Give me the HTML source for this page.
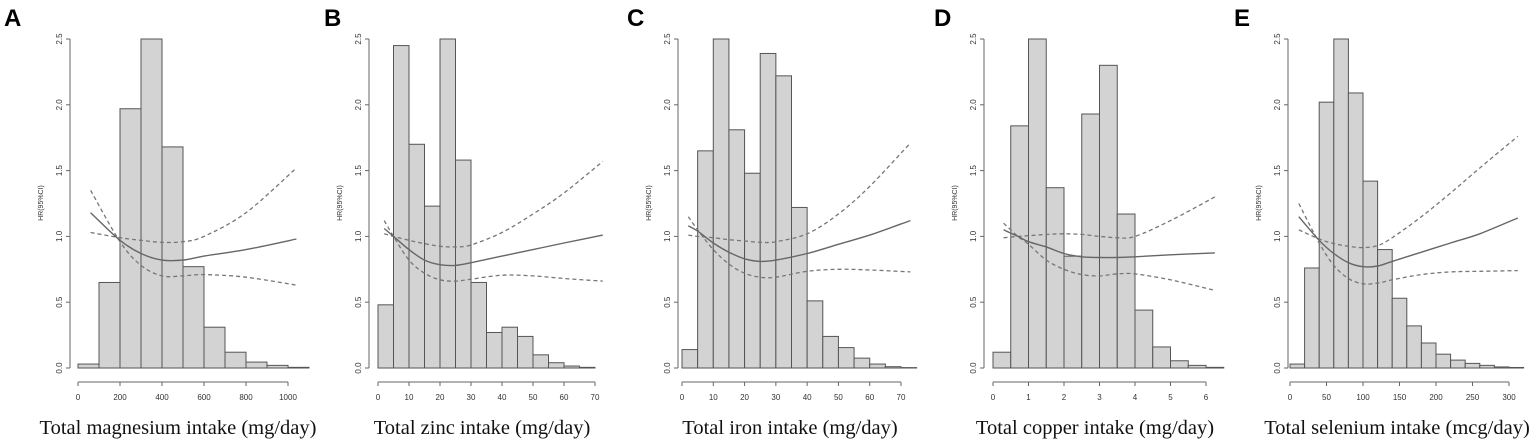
<!DOCTYPE html>
<html><head><meta charset="utf-8">
<style>
html,body{margin:0;padding:0;background:#fff;}
svg{display:block;}
</style></head>
<body>
<svg id="chart" width="1535" height="443" viewBox="0 0 1535 443" xmlns="http://www.w3.org/2000/svg"></svg>
<script>
// ---- data ----
const panelLetters = ["A","B","C","D","E"];
const panelTitles = ["Total magnesium intake (mg/day)","Total zinc intake (mg/day)","Total iron intake (mg/day)","Total copper intake (mg/day)","Total selenium intake (mcg/day)"];
const binWidths = [100,5,5,0.5,20];
const histA = [0.03,0.65,1.97,2.5,1.68,0.77,0.31,0.12,0.045,0.02,0.005];
const histB = [0.48,2.45,1.70,1.23,2.5,1.58,0.65,0.27,0.31,0.24,0.10,0.04,0.015,0.005];
const histC = [0.14,1.65,2.5,1.81,1.48,2.39,2.22,1.22,0.51,0.24,0.155,0.075,0.03,0.01,0.003];
const histD = [0.12,1.84,2.5,1.37,0.85,1.93,2.3,1.17,0.44,0.16,0.055,0.02,0.005];
const histE = [0.03,0.76,2.02,2.5,2.09,1.42,0.9,0.53,0.32,0.19,0.105,0.06,0.035,0.02,0.008,0.004];
const xTicksA = [0,200,400,600,800,1000];
const xTicksB = [0,10,20,30,40,50,60,70];
const xTicksC = [0,10,20,30,40,50,60,70];
const xTicksD = [0,1,2,3,4,5,6];
const xTicksE = [0,50,100,150,200,250,300];
const yTicks = [0,0.5,1.0,1.5,2.0,2.5];
const curveXA = [60,200,300,400,500,600,800,1040];
const hrA = [1.18,0.97,0.87,0.82,0.82,0.85,0.9,0.98];
const upA = [1.03,0.99,0.97,0.955,0.96,1.0,1.18,1.52];
const loA = [1.35,0.96,0.78,0.70,0.70,0.71,0.69,0.63];
const curveXB = [2,5,10,15,20,25,30,40,50,60,72.5];
const hrB = [1.06,1.0,0.9,0.82,0.785,0.78,0.80,0.85,0.9,0.95,1.01];
const upB = [1.02,1.0,0.97,0.945,0.925,0.92,0.935,1.03,1.17,1.33,1.57];
const loB = [1.12,1.0,0.82,0.72,0.67,0.66,0.675,0.705,0.70,0.68,0.66];
const curveXC = [2,5,10,15,20,25,30,40,50,60,73];
const hrC = [1.08,1.04,0.95,0.88,0.83,0.81,0.82,0.87,0.94,1.01,1.12];
const upC = [1.01,1.0,0.99,0.975,0.965,0.955,0.96,1.02,1.17,1.38,1.71];
const loC = [1.15,1.05,0.9,0.79,0.72,0.69,0.69,0.735,0.75,0.745,0.73];
const curveXD = [0.3,0.7,1,1.5,2,2.5,3,3.5,4,5,6.25];
const hrD = [1.05,1.0,0.96,0.92,0.87,0.845,0.84,0.84,0.845,0.86,0.875];
const upD = [0.99,1.0,1.005,1.015,1.02,1.015,1.0,0.99,1.0,1.12,1.3];
const loD = [1.1,1.0,0.94,0.82,0.75,0.71,0.70,0.715,0.715,0.67,0.59];
const curveXE = [12,40,60,80,100,120,140,180,220,260,312];
const hrE = [1.15,0.97,0.87,0.8,0.77,0.775,0.81,0.88,0.95,1.02,1.14];
const upE = [1.05,0.98,0.945,0.925,0.915,0.93,0.99,1.15,1.33,1.52,1.76];
const loE = [1.25,0.95,0.78,0.68,0.64,0.645,0.67,0.71,0.73,0.735,0.74];

const hists = [histA,histB,histC,histD,histE];
const xTicksAll = [xTicksA,xTicksB,xTicksC,xTicksD,xTicksE];
const curveXs = [curveXA,curveXB,curveXC,curveXD,curveXE];
const hrs = [hrA,hrB,hrC,hrD,hrE];
const ups = [upA,upB,upC,upD,upE];
const los = [loA,loB,loC,loD,loE];

const layout = [
  {yAxis:70, x0:78, x1:288, letterX:4, titleX:178},
  {yAxis:369, x0:378, x1:595, letterX:324, titleX:482},
  {yAxis:678, x0:682, x1:901, letterX:627, titleX:790},
  {yAxis:984, x0:993, x1:1206, letterX:934, titleX:1095},
  {yAxis:1288, x0:1290, x1:1509, letterX:1234, titleX:1397}
];
const yTop = 39, yBot = 368, yMaxVal = 2.5;
const NS = "http://www.w3.org/2000/svg";
const svg = document.getElementById('chart');
function mk(tag, attrs, parent){
  const e = document.createElementNS(NS, tag);
  for (const k in attrs) e.setAttribute(k, attrs[k]);
  (parent||svg).appendChild(e);
  return e;
}
function yScale(v){ return yBot - v/yMaxVal*(yBot-yTop); }

function smoothPath(pts){
  let d = "M"+pts[0][0].toFixed(1)+","+pts[0][1].toFixed(1);
  for (let i=0;i<pts.length-1;i++){
    const p0=pts[Math.max(0,i-1)], p1=pts[i], p2=pts[i+1], p3=pts[Math.min(pts.length-1,i+2)];
    const c1=[p1[0]+(p2[0]-p0[0])/6, p1[1]+(p2[1]-p0[1])/6];
    const c2=[p2[0]-(p3[0]-p1[0])/6, p2[1]-(p3[1]-p1[1])/6];
    d += " C"+c1[0].toFixed(1)+","+c1[1].toFixed(1)+" "+c2[0].toFixed(1)+","+c2[1].toFixed(1)+" "+p2[0].toFixed(1)+","+p2[1].toFixed(1);
  }
  return d;
}

for (let p=0;p<5;p++){
  const L = layout[p];
  const ticks = xTicksAll[p];
  const xMaxVal = ticks[ticks.length-1];
  const xScale = v => L.x0 + v/xMaxVal*(L.x1-L.x0);
  const g = mk('g',{});
  
  

  const letter = mk('text',{x:L.letterX, y:26, 'font-family':'Liberation Sans, sans-serif','font-weight':'bold','font-size':'24', fill:'#000'}, g);
  letter.textContent = panelLetters[p];
  
  

  const hg = mk('g',{},g);
  
  
  hists[p].forEach((v,i)=>{
    const xa = xScale(i*binWidths[p]), xb = xScale((i+1)*binWidths[p]);
    const r = mk('rect',{x:xa, y:yScale(v), width:xb-xa, height:yBot-yScale(v), fill:'#d3d3d3', stroke:'#555', 'stroke-width':'1'}, hg);
    
    
  });

  const ya = mk('g',{},g);
  
  
  mk('line',{x1:L.yAxis, x2:L.yAxis, y1:yTop, y2:yBot, stroke:'#666','stroke-width':'1'}, ya);
  yTicks.forEach(t=>{
    const yy = yScale(t);
    mk('line',{x1:L.yAxis-4, x2:L.yAxis, y1:yy, y2:yy, stroke:'#666','stroke-width':'1'}, ya);
    const tx = mk('text',{x:0,y:0,'font-family':'Liberation Sans, sans-serif','font-size':'8', fill:'#333','text-anchor':'middle', transform:'translate('+(L.yAxis-8)+','+yy+') rotate(-90)'}, ya);
    tx.textContent = t.toFixed(1);
    
    
  });
  const yt = mk('text',{x:0,y:0,'font-family':'Liberation Sans, sans-serif','font-size':'7', fill:'#333','text-anchor':'middle', transform:'translate('+(L.yAxis-27)+',203) rotate(-90)'}, ya);
  yt.textContent = 'HR(95%CI)';
  
  

  const xa = mk('g',{},g);
  
  
  mk('line',{x1:xScale(ticks[0]), x2:xScale(xMaxVal), y1:382, y2:382, stroke:'#666','stroke-width':'1'}, xa);
  ticks.forEach(t=>{
    const xx = xScale(t);
    mk('line',{x1:xx, x2:xx, y1:382, y2:386, stroke:'#666','stroke-width':'1'}, xa);
    const tx = mk('text',{x:xx, y:400,'font-family':'Liberation Sans, sans-serif','font-size':'8', fill:'#333','text-anchor':'middle'}, xa);
    tx.textContent = t;
    
    
  });
  const ttl = mk('text',{x:L.titleX, y:434,'font-family':'Liberation Serif, serif','font-size':'20.5', fill:'#111','text-anchor':'middle'}, g);
  ttl.textContent = panelTitles[p];
  
  

  const cx = curveXs[p];
  const mkPts = arr => cx.map((x,i)=>[xScale(x), yScale(arr[i])]);
  const up = mk('path',{d:smoothPath(mkPts(ups[p])), fill:'none', stroke:'#777','stroke-width':'1.3','stroke-dasharray':'4,3'}, g);
  
  
  const lo = mk('path',{d:smoothPath(mkPts(los[p])), fill:'none', stroke:'#777','stroke-width':'1.3','stroke-dasharray':'4,3'}, g);
  
  
  const hr = mk('path',{d:smoothPath(mkPts(hrs[p])), fill:'none', stroke:'#666','stroke-width':'1.4'}, g);
  
  
}
</script>
</body></html>
